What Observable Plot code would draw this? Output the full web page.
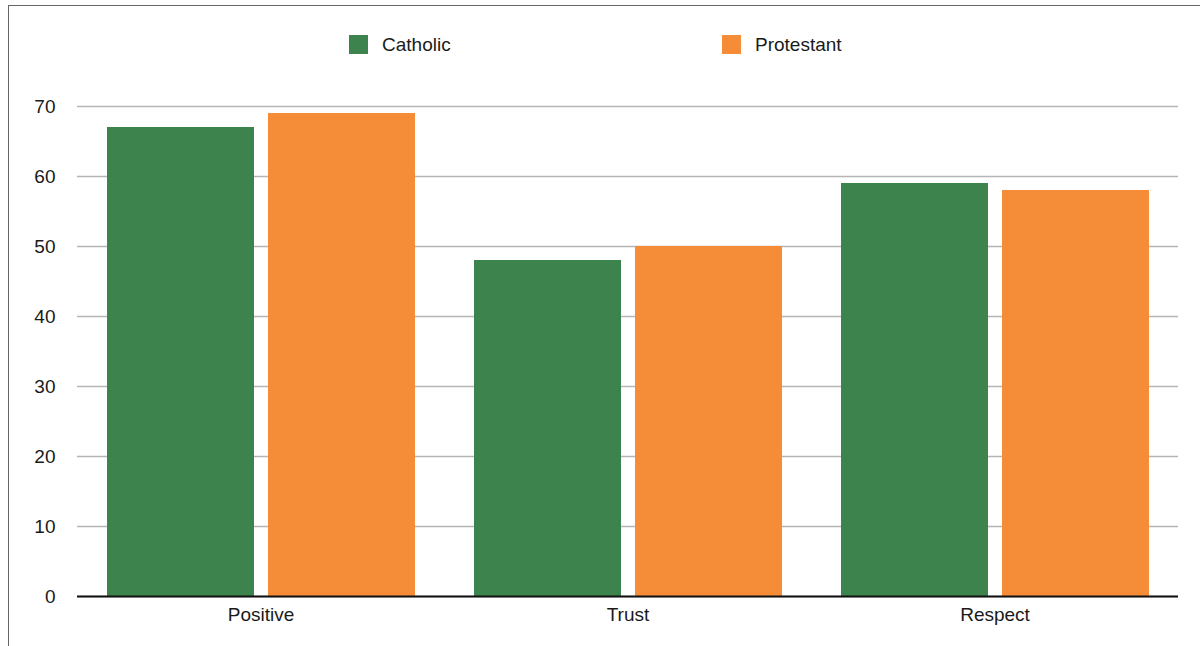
<!DOCTYPE html>
<html>
<head>
<meta charset="utf-8">
<script src="https://cdn.jsdelivr.net/npm/d3@7"></script>
<script src="https://cdn.jsdelivr.net/npm/@observablehq/plot@0.6"></script>
<style>
  html, body { margin: 0; padding: 0; background: #fff; overflow: hidden; width: 1200px; height: 646px; }
  body { font-family: "Liberation Sans", Arial, Helvetica, sans-serif; position: relative; }
  #frame { position: absolute; left: 8px; top: 5px; width: 1400px; height: 900px; border: 1px solid #666; box-sizing: border-box; pointer-events: none; }
  #legend { position: relative; height: 70px; width: 1200px; }
  .sw { position: absolute; width: 19px; height: 19px; top: 35px; }
  .lt { position: absolute; top: 34px; font-size: 19px; color: #1a1a1a; line-height: 22px; }
  #chart { position: relative; }
</style>
</head>
<body>
<div id="frame"></div>
<div id="legend"></div>
<div id="chart"></div>
<script>
const categories = ["Positive", "Trust", "Respect"];
const series = ["Catholic", "Protestant"];
const catholic = [67, 48, 59];
const protestant = [69, 50, 58];
const colors = ["#3c834d", "#f58c37"];
const yTicks = [0, 10, 20, 30, 40, 50, 60, 70];

const data = [];
categories.forEach((c, i) => {
  data.push({category: c, series: "Catholic", value: catholic[i]});
  data.push({category: c, series: "Protestant", value: protestant[i]});
});

// legend (HTML, above the SVG)
const legend = document.getElementById("legend");
const legendPos = [{sw: 349, tx: 382}, {sw: 722, tx: 755}];
series.forEach((s, i) => {
  const sw = document.createElement("div");
  sw.className = "sw";
  sw.style.left = legendPos[i].sw + "px";
  sw.style.background = colors[i];
  legend.appendChild(sw);
  const t = document.createElement("div");
  t.className = "lt";
  t.style.left = legendPos[i].tx + "px";
  t.textContent = s;
  legend.appendChild(t);
});

const chart = Plot.plot({
  width: 1200,
  height: 576,
  marginTop: 36,
  marginBottom: 50,
  marginLeft: 77,
  marginRight: 22,
  style: {fontFamily: "'Liberation Sans', Arial, Helvetica, sans-serif", fontSize: "19px", color: "#1a1a1a", background: "transparent"},
  fx: {domain: categories, padding: 0, label: null, axis: "bottom", tickSize: 0, tickPadding: 11},
  x: {domain: series, axis: null, paddingInner: 0.087, paddingOuter: 0.183},
  y: {domain: [0, 70], ticks: yTicks, label: null, tickSize: 0, tickPadding: 22},
  color: {domain: series, range: colors},
  marks: [
    Plot.gridY(yTicks, {stroke: "#b5b5b5", strokeOpacity: 1, strokeWidth: 1.5}),
    Plot.barY(data, {fx: "category", x: "series", y: "value", fill: "series"}),
    Plot.ruleY([0], {stroke: "#111", strokeWidth: 2})
  ]
});
document.getElementById("chart").appendChild(chart);
</script>
</body>
</html>
